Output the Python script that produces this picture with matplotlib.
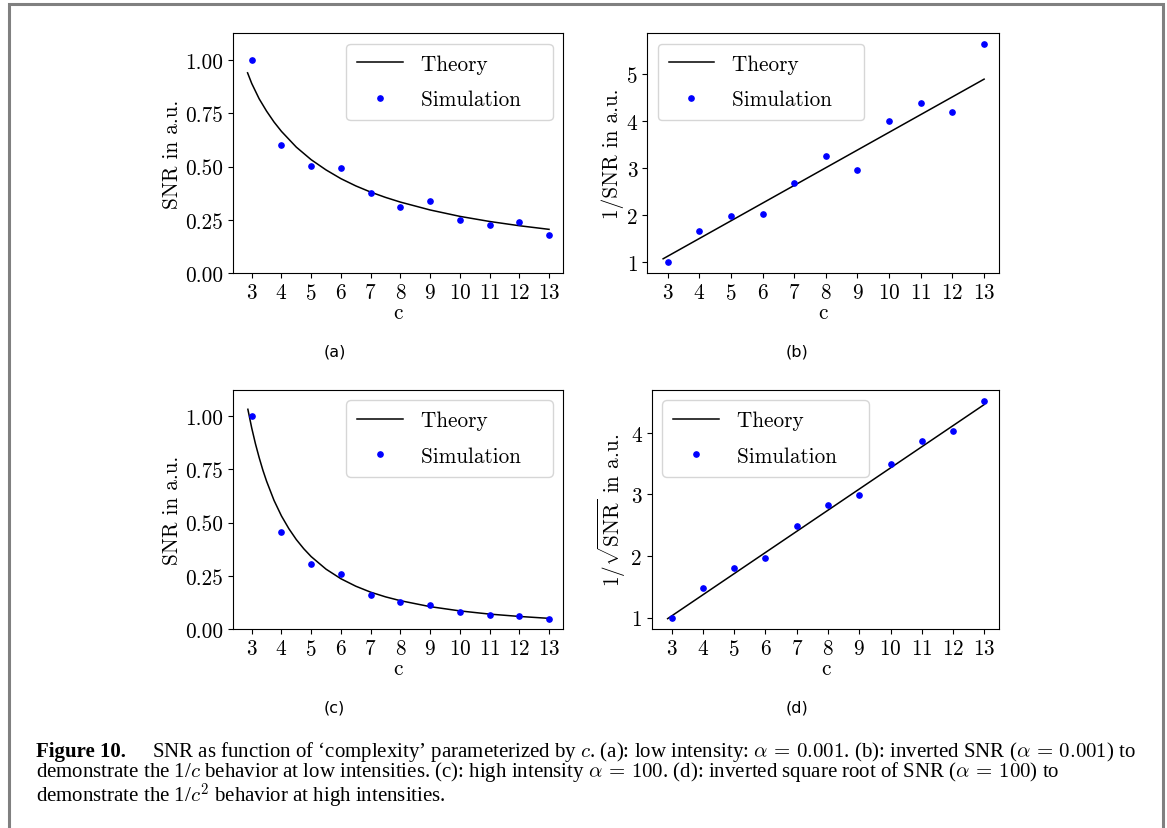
"""SNR versus complexity c: four panels with theory curves and simulation points."""
import matplotlib

matplotlib.use("Agg")
import matplotlib.pyplot as plt
from matplotlib.patches import Rectangle
from matplotlib.ticker import FormatStrFormatter

plt.rcParams["font.family"] = "serif"
plt.rcParams["font.serif"] = ["cmr10"]
plt.rcParams["mathtext.fontset"] = "cm"
plt.rcParams["axes.formatter.use_mathtext"] = True

# simulation points
c_sim = [3, 4, 5, 6, 7, 8, 9, 10, 11, 12, 13]
snr_low = [1.00, 0.60, 0.504, 0.495, 0.374, 0.308, 0.340, 0.250, 0.227, 0.239, 0.178]
inv_snr_low = [1.00, 1.67, 1.99, 2.03, 2.68, 3.25, 2.96, 4.00, 4.39, 4.19, 5.64]
snr_high = [1.00, 0.455, 0.305, 0.258, 0.162, 0.125, 0.111, 0.081, 0.067, 0.061, 0.049]
inv_sqrt_snr_high = [1.00, 1.48, 1.81, 1.97, 2.49, 2.83, 2.99, 3.50, 3.87, 4.03, 4.51]

# theory curves
theory_c_low = [2.86, 3.0, 3.25, 3.5, 3.75, 4.0, 4.5, 5.0, 5.5, 6.0, 6.5, 7.0,
                7.5, 8.0, 9.0, 10.0, 11.0, 12.0, 13.0]
theory_snr_low = [0.940, 0.890, 0.818, 0.760, 0.709, 0.665, 0.591, 0.532, 0.484,
                  0.443, 0.409, 0.380, 0.355, 0.333, 0.296, 0.266, 0.242, 0.222, 0.205]
theory_c_inv_low = [2.86, 13.0]
theory_inv_snr_low = [1.075, 4.89]
theory_c_high = [2.87, 3.0, 3.125, 3.25, 3.375, 3.5, 3.75, 4.0, 4.25, 4.5, 4.75,
                 5.0, 5.5, 6.0, 6.5, 7.0, 7.5, 8.0, 9.0, 10.0, 11.0, 12.0, 13.0]
theory_snr_high = [1.032, 0.944, 0.870, 0.805, 0.746, 0.694, 0.604, 0.531, 0.471,
                   0.420, 0.377, 0.340, 0.281, 0.236, 0.201, 0.173, 0.151, 0.133,
                   0.105, 0.085, 0.070, 0.059, 0.050]
theory_c_inv_high = [2.87, 13.0]
theory_inv_sqrt_snr_high = [0.985, 4.46]

W, H = 1167, 829
fig = plt.figure(figsize=(W / 100, H / 100), dpi=100)

# grey frame around the figure
fig.patches.append(Rectangle((9 / W, -0.05), (1163 - 9) / W, 1.05 - 5 / H,
                             transform=fig.transFigure, fill=False,
                             edgecolor="#808080", linewidth=2.2))


def px_axes(x0, y0, x1, y1):
    return fig.add_axes([x0 / W, 1 - y1 / H, (x1 - x0) / W, (y1 - y0) / H])


FS = 15.3
panels = [
    dict(box=(232.7, 34, 563.3, 274), tx=theory_c_low, ty=theory_snr_low, sy=snr_low,
         ylim=(0, 1.127), yticks=[0, 0.25, 0.5, 0.75, 1.0], fmt="%.2f",
         ylabel="SNR in a.u.", loc="upper right", tag="(a)", tag_xy=(335, 352)),
    dict(box=(647.3, 34, 999.3, 274), tx=theory_c_inv_low, ty=theory_inv_snr_low, sy=inv_snr_low,
         ylim=(0.773, 5.87), yticks=[1, 2, 3, 4, 5], fmt="%d",
         ylabel="1/SNR in a.u.", loc="upper left", tag="(b)", tag_xy=(797, 352)),
    dict(box=(232.7, 390.7, 563.3, 630), tx=theory_c_high, ty=theory_snr_high, sy=snr_high,
         ylim=(0, 1.124), yticks=[0, 0.25, 0.5, 0.75, 1.0], fmt="%.2f",
         ylabel="SNR in a.u.", loc="upper right", tag="(c)", tag_xy=(334, 708)),
    dict(box=(651.7, 390.7, 999.3, 630), tx=theory_c_inv_high, ty=theory_inv_sqrt_snr_high,
         sy=inv_sqrt_snr_high, ylim=(0.817, 4.70), yticks=[1, 2, 3, 4], fmt="%d",
         ylabel=r"$1/\sqrt{\mathrm{SNR}}$ in a.u.", loc="upper left", tag="(d)",
         tag_xy=(797, 708)),
]

for p in panels:
    ax = px_axes(*p["box"])
    # trailing spaces widen the legend box like the TeX-rendered original
    ax.plot(p["tx"], p["ty"], color="black", linewidth=1.1, label="Theory   ")
    ax.plot(c_sim, p["sy"], "o", color="blue", markersize=3.8, linestyle="none",
            label="Simulation   ")
    ax.set_xlim(2.36, 13.48)
    ax.set_ylim(*p["ylim"])
    ax.set_xticks(c_sim)
    ax.set_yticks(p["yticks"])
    ax.yaxis.set_major_formatter(FormatStrFormatter(p["fmt"]))
    ax.tick_params(labelsize=FS)
    ax.set_xlabel("c", fontsize=FS, labelpad=0)
    ax.set_ylabel(p["ylabel"], fontsize=FS, labelpad=2)
    ax.legend(loc=p["loc"], fontsize=FS, handlelength=2.15, handletextpad=0.85,
              labelspacing=0.75, borderpad=0.5, borderaxespad=0.5)
    fig.text(p["tag_xy"][0] / W, 1 - p["tag_xy"][1] / H, p["tag"], ha="center",
             va="center", fontsize=11.5, family="DejaVu Sans")

# caption (multi-line text with va="baseline" aligns its last line)
cap = dict(fontsize=15.0, family="Liberation Serif", va="baseline")
fig.text(36 / W, 1 - 757 / H, "Figure 10.", fontweight="bold", **cap)
fig.text(152 / W, 1 - 757 / H,
         r"SNR as function of ‘complexity’ parameterized by $c$. (a): low intensity: "
         r"$\alpha\,=\,0.001$. (b): inverted SNR ($\alpha\,=\,0.001$) to", **cap)
fig.text(36 / W, 1 - 803 / H,
         "demonstrate the 1/$c$ behavior at low intensities. (c): high intensity "
         r"$\alpha\,=\,100$. (d): inverted square root of SNR ($\alpha\,=\,100$) to"
         "\n" r"demonstrate the 1/$c^2$ behavior at high intensities.",
         linespacing=0.89, **cap)

fig.savefig("out.png", dpi=100)
plt.close(fig)
